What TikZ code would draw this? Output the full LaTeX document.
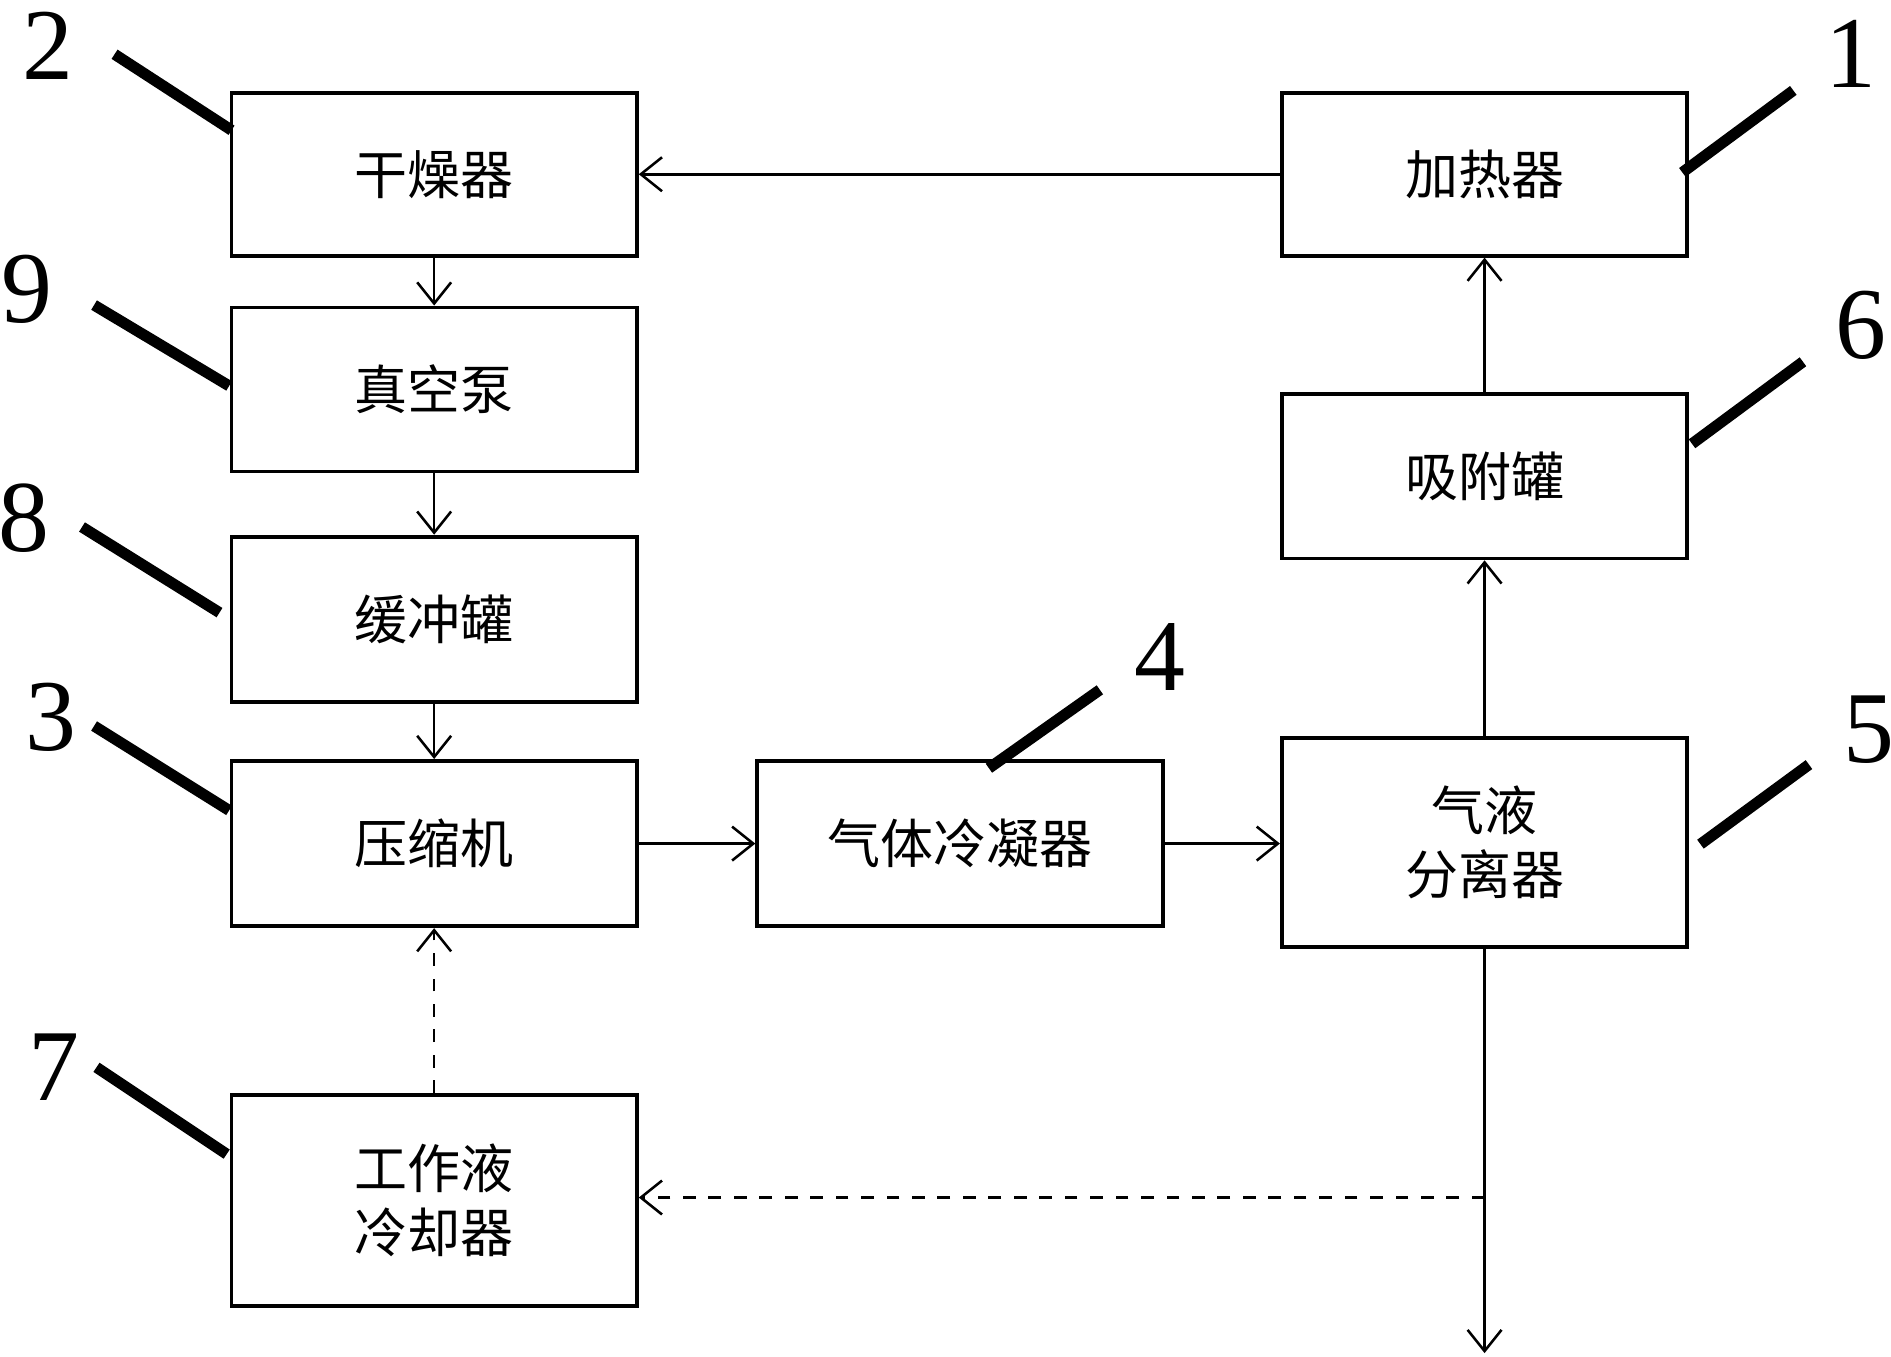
\documentclass[tikz,border=0pt]{standalone}
\usepackage{fontspec}
\newfontfamily\cjk{Noto Sans CJK SC}
\setmainfont{Liberation Serif}
\usetikzlibrary{arrows.meta}
\begin{document}
\begin{tikzpicture}[x=0.01cm,y=-0.01cm,
 box/.style={draw,line width=0.9pt,minimum width=3.36cm,inner sep=0pt,font=\cjk\fontsize{12.5}{15}\selectfont,align=center},
 arr/.style={line width=0.6pt,-{Straight Barb[length=5pt,width=8pt]}},
 lead/.style={line width=2.6pt},
 num/.style={font=\fontsize{24}{24}\selectfont}]
\useasboundingbox (0,0) rectangle (1568,1125);
\node[box,minimum height=1.35cm] (dry) at (360,144.5) {干燥器};
\node[box,minimum height=1.36cm] (vac) at (360,323) {真空泵};
\node[box,minimum height=1.37cm] (buf) at (360,513.5) {缓冲罐};
\node[box,minimum height=1.37cm] (comp) at (360,699.5) {压缩机};
\node[box,minimum height=1.75cm] (cool) at (360,995.5) {工作液\\冷却器};
\node[box,minimum height=1.35cm] (heat) at (1231,144.5) {加热器};
\node[box,minimum height=1.36cm] (ads) at (1231,395) {吸附罐};
\node[box,minimum height=1.73cm] (sep) at (1231,698.5) {气液\\分离器};
\node[box,minimum height=1.37cm] (cond) at (796,699.5) {气体冷凝器};
\draw[arr] (heat.west) -- (dry.east);
\draw[arr] (dry.south) -- (vac.north);
\draw[arr] (vac.south) -- (buf.north);
\draw[arr] (buf.south) -- (comp.north);
\draw[arr] (comp.east) -- (cond.west);
\draw[arr] (cond.east) -- (cond.east -| sep.west);
\draw[arr] (sep.north) -- (ads.south);
\draw[arr] (ads.north) -- (heat.south);
\coordinate (br) at (1231,993);
\coordinate (end) at (1231,1122);
\draw[arr] (sep.south) -- (end);
\draw[arr,dashed] (br) -- (cool.east|-br);
\draw[arr,dashed] (cool.north) -- (comp.south);
\draw[lead] (95,45) -- (192,108); \node[num] (n2) at (40,38) {2};
\draw[lead] (78,253) -- (190,320); \node[num] (n9) at (22,240) {9};
\draw[lead] (68,437) -- (182,508); \node[num] (n8) at (20,430) {8};
\draw[lead] (78,602) -- (190,672); \node[num] (n3) at (42,595) {3};
\draw[lead] (80,885) -- (188,957); \node[num] (n7) at (45,885) {7};
\draw[lead] (912,572) -- (820,637); \node[num] (n4) at (962,545) {4};
\draw[lead] (1500,634) -- (1410,700); \node[num] (n5) at (1550,605) {5};
\draw[lead] (1495,300) -- (1403,368); \node[num] (n6) at (1543,270) {6};
\draw[lead] (1487,75) -- (1395,143); \node[num] (n1) at (1535,45) {1};
\end{tikzpicture}
\end{document}
